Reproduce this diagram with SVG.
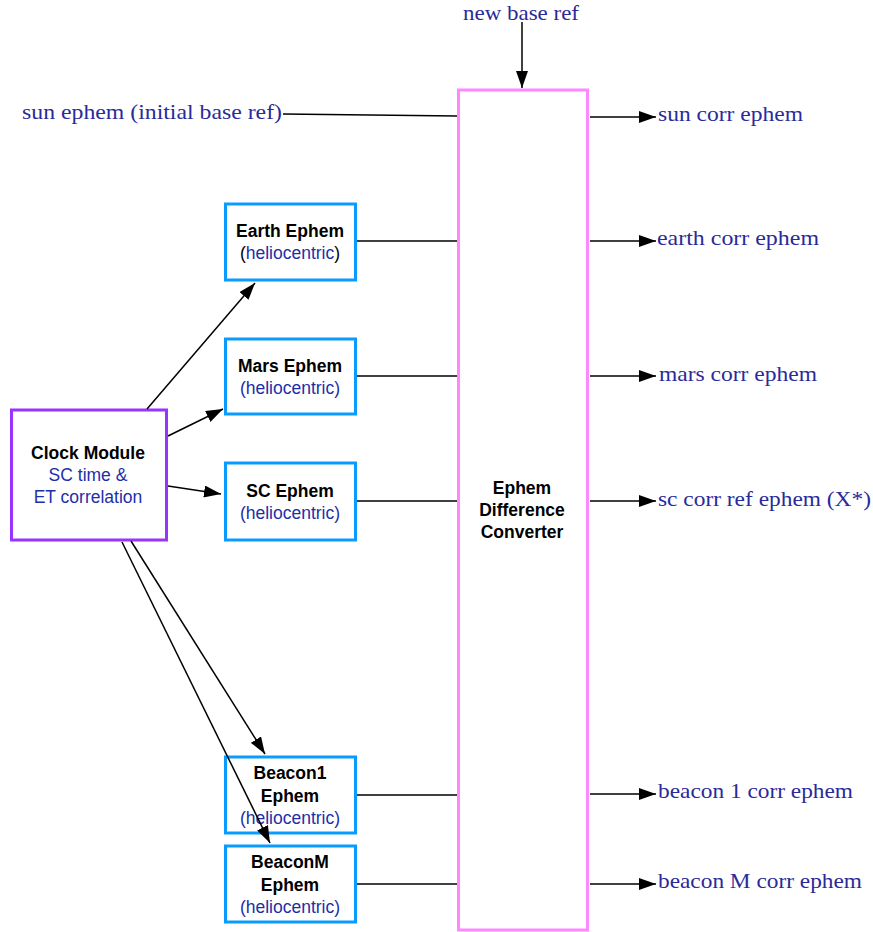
<svg xmlns="http://www.w3.org/2000/svg" width="873" height="932" viewBox="0 0 873 932">
<style>
.box{fill:#fff;stroke:#0A9BFF;stroke-width:3}
.b{font-family:"Liberation Sans",Arial,sans-serif;font-size:17.5px;font-weight:bold;fill:#000;text-anchor:middle}
.s{font-family:"Liberation Sans",Arial,sans-serif;font-size:17.5px;fill:#1C2FA8;text-anchor:middle}
.l{font-family:"Liberation Serif","Times New Roman",serif;font-size:21px;fill:#2A2A9A}
.c{stroke:#000;stroke-width:1.5;fill:none}
</style>
<defs>
<marker id="ah" viewBox="0 0 17 12" refX="17" refY="6" markerWidth="17" markerHeight="12" markerUnits="userSpaceOnUse" orient="auto">
<path d="M0,0 L17,6 L0,12 Z" fill="#000"/>
</marker>
</defs>
<g id="labels">
<text class="l" x="22" y="119" textLength="260" lengthAdjust="spacingAndGlyphs">sun ephem (initial base ref)</text>
<text class="l" x="463" y="20" textLength="116" lengthAdjust="spacingAndGlyphs">new base ref</text>
<text class="l" x="658" y="121" textLength="145" lengthAdjust="spacingAndGlyphs">sun corr ephem</text>
<text class="l" x="657" y="245" textLength="162" lengthAdjust="spacingAndGlyphs">earth corr ephem</text>
<text class="l" x="659" y="381" textLength="158" lengthAdjust="spacingAndGlyphs">mars corr ephem</text>
<text class="l" x="658" y="506" textLength="213" lengthAdjust="spacingAndGlyphs">sc corr ref ephem (X*)</text>
<text class="l" x="658" y="798" textLength="195" lengthAdjust="spacingAndGlyphs">beacon 1 corr ephem</text>
<text class="l" x="658" y="888" textLength="204" lengthAdjust="spacingAndGlyphs">beacon M corr ephem</text>
</g>
<g id="converter">
<rect x="458.5" y="90" width="129" height="840" fill="#fff" stroke="#FF88FF" stroke-width="3"/>
<text class="b" x="522" y="494">Ephem</text>
<text class="b" x="522" y="516">Difference</text>
<text class="b" x="522" y="538">Converter</text>
</g>
<g id="clock">
<rect x="11.5" y="410" width="155" height="130" fill="#fff" stroke="#9933FF" stroke-width="3"/>
<text class="b" x="88" y="459">Clock Module</text>
<text class="s" x="88" y="481">SC time &amp;</text>
<text class="s" x="88" y="503">ET correlation</text>
</g>
<g id="earth">
<rect class="box" x="225.5" y="204" width="130" height="76"/>
<text class="b" x="290" y="237">Earth Ephem</text>
<text class="s" x="290" y="259"><tspan fill="#000">(</tspan>heliocentric<tspan fill="#000">)</tspan></text>
</g>
<g id="mars">
<rect class="box" x="225.5" y="339" width="130" height="75"/>
<text class="b" x="290" y="372">Mars Ephem</text>
<text class="s" x="290" y="394">(heliocentric)</text>
</g>
<g id="sc">
<rect class="box" x="225.5" y="463" width="130" height="77"/>
<text class="b" x="290" y="497">SC Ephem</text>
<text class="s" x="290" y="519">(heliocentric)</text>
</g>
<g id="beacon1">
<rect class="box" x="225.5" y="757" width="130" height="76"/>
<text class="b" x="290" y="779">Beacon1</text>
<text class="b" x="290" y="802">Ephem</text>
<text class="s" x="290" y="824">(heliocentric)</text>
</g>
<g id="beaconM">
<rect class="box" x="225.5" y="846" width="130" height="76"/>
<text class="b" x="290" y="868">BeaconM</text>
<text class="b" x="290" y="891">Ephem</text>
<text class="s" x="290" y="913">(heliocentric)</text>
</g>
<g id="connectors">
<line class="c" x1="283" y1="114" x2="457" y2="116"/>
<line class="c" x1="522" y1="22" x2="522" y2="88" marker-end="url(#ah)"/>
<line class="c" x1="590" y1="117" x2="656" y2="117" marker-end="url(#ah)"/>
<line class="c" x1="357" y1="241" x2="457" y2="241"/>
<line class="c" x1="590" y1="241" x2="656" y2="241" marker-end="url(#ah)"/>
<line class="c" x1="357" y1="376" x2="457" y2="376"/>
<line class="c" x1="590" y1="376" x2="656" y2="376" marker-end="url(#ah)"/>
<line class="c" x1="357" y1="501" x2="457" y2="501"/>
<line class="c" x1="590" y1="501" x2="656" y2="501" marker-end="url(#ah)"/>
<line class="c" x1="357" y1="795" x2="457" y2="795"/>
<line class="c" x1="590" y1="794" x2="656" y2="794" marker-end="url(#ah)"/>
<line class="c" x1="357" y1="884" x2="457" y2="884"/>
<line class="c" x1="590" y1="884" x2="656" y2="884" marker-end="url(#ah)"/>
<line class="c" x1="147" y1="409" x2="255" y2="283" marker-end="url(#ah)"/>
<line class="c" x1="168" y1="436" x2="223" y2="409" marker-end="url(#ah)"/>
<line class="c" x1="168" y1="486" x2="221" y2="494" marker-end="url(#ah)"/>
<line class="c" x1="131" y1="541" x2="265" y2="754" marker-end="url(#ah)"/>
<line class="c" x1="122" y1="542" x2="270" y2="843" marker-end="url(#ah)"/>
</g>
</svg>
